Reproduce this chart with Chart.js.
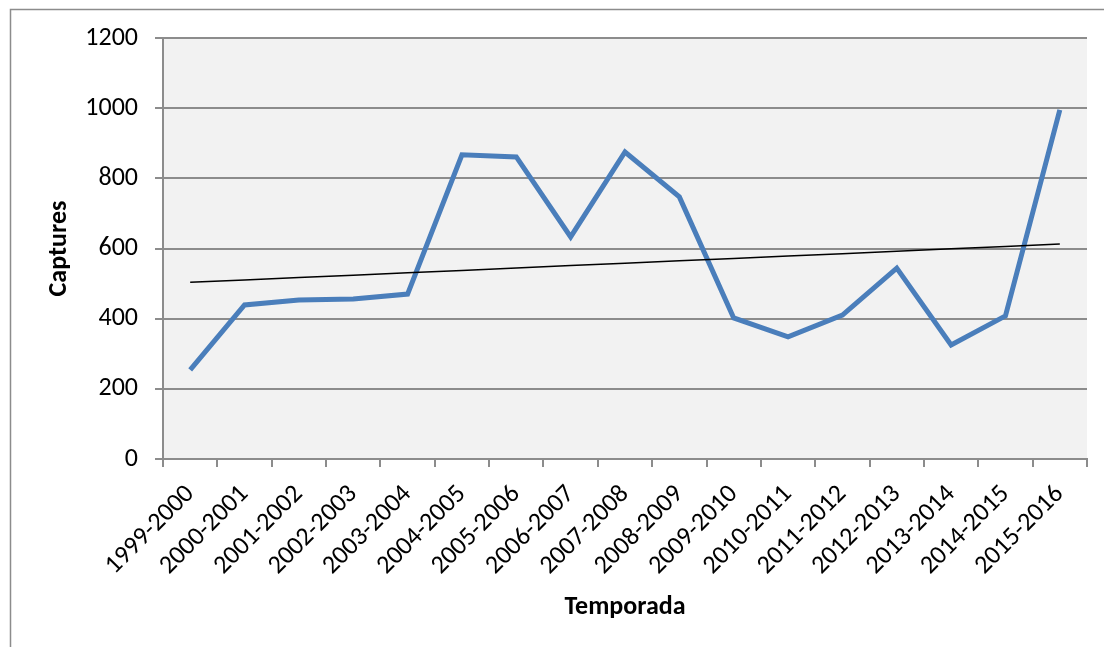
<!DOCTYPE html>
<html>
<head>
<meta charset="utf-8">
<script src="https://cdn.jsdelivr.net/npm/chart.js@4"></script>
<style>
  html, body { margin: 0; padding: 0; background: #fff; }
  #wrap { width: 1104px; height: 647px; position: relative; }
</style>
</head>
<body>
<div id="wrap"><canvas id="capturesChart" width="1104" height="647"></canvas></div>
<script>
// Dades del gràfic
const temporades = ["1999-2000", "2000-2001", "2001-2002", "2002-2003", "2003-2004", "2004-2005",
  "2005-2006", "2006-2007", "2007-2008", "2008-2009", "2009-2010", "2010-2011", "2011-2012",
  "2012-2013", "2013-2014", "2014-2015", "2015-2016"];
const captures = [254, 439, 453, 456, 470, 867, 861, 633, 875, 747, 402, 348, 410, 544, 325, 408, 995];
const yTicks = [0, 200, 400, 600, 800, 1000, 1200];

// Línia de tendència (mínims quadrats)
function tendencia(vals) {
  const n = vals.length;
  let sx = 0, sy = 0, sxy = 0, sxx = 0;
  vals.forEach(function (v, i) { sx += i; sy += v; sxy += i * v; sxx += i * i; });
  const m = (n * sxy - sx * sy) / (n * sxx - sx * sx);
  const b = (sy - m * sx) / n;
  return vals.map(function (v, i) { return b + m * i; });
}

const font = "Carlito, Lato, sans-serif";

// Fons blanc, marc exterior i fons gris de l'àrea
const fons = {
  id: "fons",
  beforeDraw: function (chart) {
    const ctx = chart.ctx;
    const a = chart.chartArea;
    ctx.save();
    ctx.fillStyle = "#fff";
    ctx.fillRect(0, 0, chart.width, chart.height);
    ctx.strokeStyle = "#8c8c8c";
    ctx.lineWidth = 1.5;
    ctx.strokeRect(10.5, 9.5, chart.width + 20, chart.height + 20);
    ctx.fillStyle = "#f2f2f2";
    ctx.fillRect(a.left, a.top, a.right - a.left, a.bottom - a.top);
    ctx.restore();
  }
};

new Chart(document.getElementById("capturesChart").getContext("2d"), {
  type: "line",
  data: {
    labels: temporades,
    datasets: [
      {
        label: "Captures",
        data: captures,
        borderColor: "#4a7ebb",
        borderWidth: 5,
        pointRadius: 0,
        tension: 0,
        borderJoinStyle: "miter",
        order: 2
      },
      {
        label: "Tendència",
        data: tendencia(captures),
        borderColor: "#000",
        borderWidth: 1.5,
        pointRadius: 0,
        tension: 0,
        order: 1
      }
    ]
  },
  options: {
    responsive: false,
    animation: false,
    layout: { padding: { top: 38, right: 17, left: 0, bottom: 0 } },
    plugins: {
      legend: { display: false },
      tooltip: { enabled: false }
    },
    scales: {
      x: {
        offset: true,
        afterFit: function (scale) { scale.height = 188; },
        border: { display: true, color: "#8c8c8c", width: 2 },
        grid: {
          offset: true,
          drawOnChartArea: false,
          drawTicks: true,
          tickLength: 8,
          color: "#8c8c8c",
          lineWidth: 2
        },
        ticks: {
          color: "#000",
          font: { family: font, size: 26 },
          maxRotation: 45,
          minRotation: 45,
          autoSkip: false,
          padding: 12
        },
        title: {
          display: true,
          text: "Temporada",
          color: "#000",
          font: { family: font, size: 26, weight: "bold" },
          padding: { top: 0, bottom: 24 }
        }
      },
      y: {
        min: 0,
        max: 1200,
        afterFit: function (scale) { scale.width = 163; },
        afterBuildTicks: function (scale) {
          scale.ticks = yTicks.map(function (v) { return { value: v }; });
        },
        border: { display: true, color: "#8c8c8c", width: 2 },
        grid: {
          color: "#8c8c8c",
          lineWidth: 2,
          drawTicks: true,
          tickLength: 8
        },
        ticks: {
          color: "#000",
          font: { family: font, size: 26 },
          padding: 17,
          callback: function (v) { return String(v); }
        },
        title: {
          display: true,
          text: "Captures",
          color: "#000",
          font: { family: font, size: 26, weight: "bold" },
          padding: { top: 44, bottom: 0 }
        }
      }
    }
  },
  plugins: [fons]
});
</script>
</body>
</html>
